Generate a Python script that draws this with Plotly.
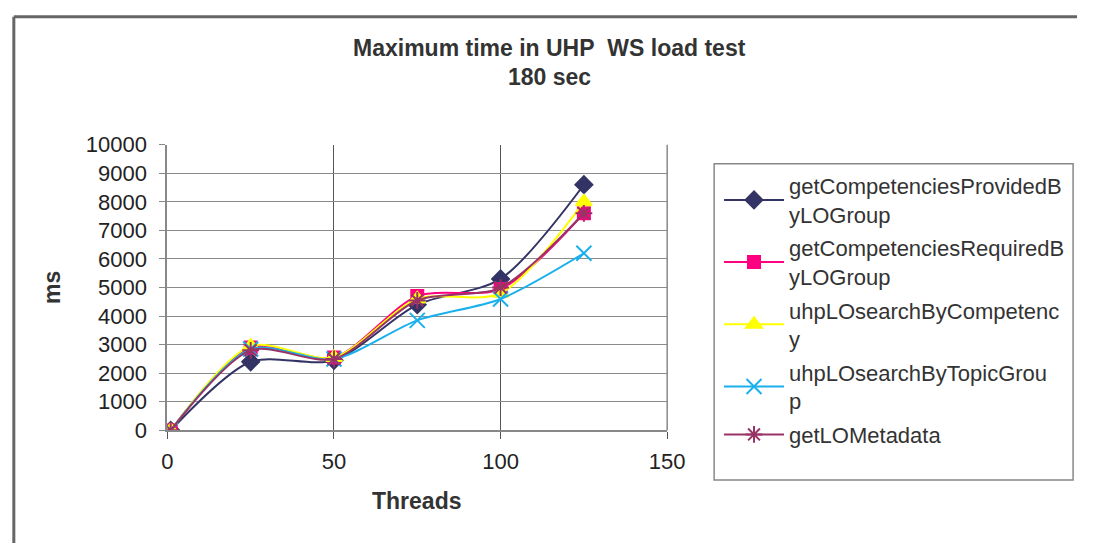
import plotly.graph_objects as go

threads = [1, 25, 50, 75, 100, 125]
provided = [0, 2400, 2450, 4400, 5300, 8600]
required = [0, 2900, 2550, 4700, 4950, 7600]
by_competency = [0, 2950, 2550, 4600, 4800, 8000]
by_topic_group = [0, 2850, 2500, 3850, 4600, 6200]
metadata = [0, 2800, 2500, 4550, 5000, 7600]

names = [
    "getCompetenciesProvidedB<br>yLOGroup",
    "getCompetenciesRequiredB<br>yLOGroup",
    "uhpLOsearchByCompetenc<br>y",
    "uhpLOsearchByTopicGrou<br>p",
    "getLOMetadata",
]
series = [provided, required, by_competency, by_topic_group, metadata]
colors = ["#333366", "#FF0080", "#FFFF00", "#1AB0EC", "#993366"]
symbols = ["diamond", "square", "triangle-up", "x-thin-open", "asterisk-open"]
sizes = [13, 12, 14, 15, 14]

W, H = 1095, 556
L, R, T, B = 165, 676, 139, 438

fig = go.Figure()
for i, (nm, ys) in enumerate(zip(names, series)):
    fig.add_trace(go.Scatter(
        x=threads, y=ys, name=nm, mode="lines+markers",
        line=dict(color=colors[i], width=2, shape="spline", smoothing=0.8),
        marker=dict(symbol=symbols[i], color=colors[i], size=sizes[i],
                    line=dict(color=colors[i], width=2)),
        legendgroup=str(i),
    ))

font = "Liberation Sans, Arial, sans-serif"
fig.update_layout(
    width=W, height=H,
    margin=dict(l=0, r=0, t=0, b=0),
    paper_bgcolor="white", plot_bgcolor="white",
    font=dict(family=font, color="#222222", size=22),
    showlegend=True,
    legend=dict(
        x=729 / W, y=1 - 160 / H, xanchor="left", yanchor="top",
        bgcolor="rgba(0,0,0,0)", borderwidth=0,
        font=dict(size=22, color="#333333"),
        itemwidth=60, tracegroupgap=2,
    ),
    xaxis=dict(
        domain=[L / W, R / W], range=[0, 150], dtick=50,
        showgrid=True, gridcolor="#555555", gridwidth=1,
        zeroline=False, showline=True, linecolor="#888888", linewidth=2,
        ticks="outside", ticklen=7, tickcolor="#555555",
        ticklabelstandoff=3,
        tickfont=dict(size=22, color="#222222"), mirror=False,
    ),
    yaxis=dict(
        domain=[1 - B / H, 1 - T / H], range=[0, 10000], dtick=1000,
        tickformat="d",
        showgrid=True, gridcolor="#8a8a8a", gridwidth=1,
        zeroline=False, showline=True, linecolor="#888888", linewidth=2,
        ticks="outside", ticklen=6, tickcolor="#888888",
        ticklabelstandoff=8,
        tickfont=dict(size=22, color="#222222"),
    ),
    annotations=[
        dict(text="<b>Maximum time in UHP\u00a0 WS load test</b>", x=556 / W, y=1 - 38 / H,
             xanchor="center", yanchor="middle",
             xref="paper", yref="paper", showarrow=False, font=dict(size=23, color="#333333")),
        dict(text="<b>180 sec</b>", x=556 / W, y=1 - 68 / H,
             xanchor="center", yanchor="middle",
             xref="paper", yref="paper", showarrow=False, font=dict(size=23, color="#333333")),
        dict(text="<b>ms</b>", x=47 / W, y=1 - 288 / H, textangle=-90,
             xanchor="center", yanchor="middle",
             xref="paper", yref="paper", showarrow=False, font=dict(size=23, color="#333333")),
        dict(text="<b>Threads</b>", x=420 / W, y=1 - 512 / H,
             xanchor="center", yanchor="middle",
             xref="paper", yref="paper", showarrow=False, font=dict(size=23, color="#333333")),
    ],
    shapes=[
        dict(type="line", xref="paper", yref="paper",
             x0=8 / W, x1=1, y0=1 - 5 / H, y1=1 - 5 / H,
             line=dict(color="#666666", width=3)),
        dict(type="line", xref="paper", yref="paper",
             x0=8 / W, x1=8 / W, y0=0, y1=1 - 5 / H,
             line=dict(color="#666666", width=3)),
        dict(type="rect", xref="paper", yref="paper",
             x0=724 / W, x1=1091 / W, y0=1 - 490 / H, y1=1 - 159 / H,
             line=dict(color="#888888", width=1.5)),
        dict(type="line", xref="paper", yref="paper",
             x0=R / W, x1=R / W, y0=1 - B / H, y1=1 - T / H,
             line=dict(color="#888888", width=1.5)),
    ],
)

fig.write_html("out.html")
